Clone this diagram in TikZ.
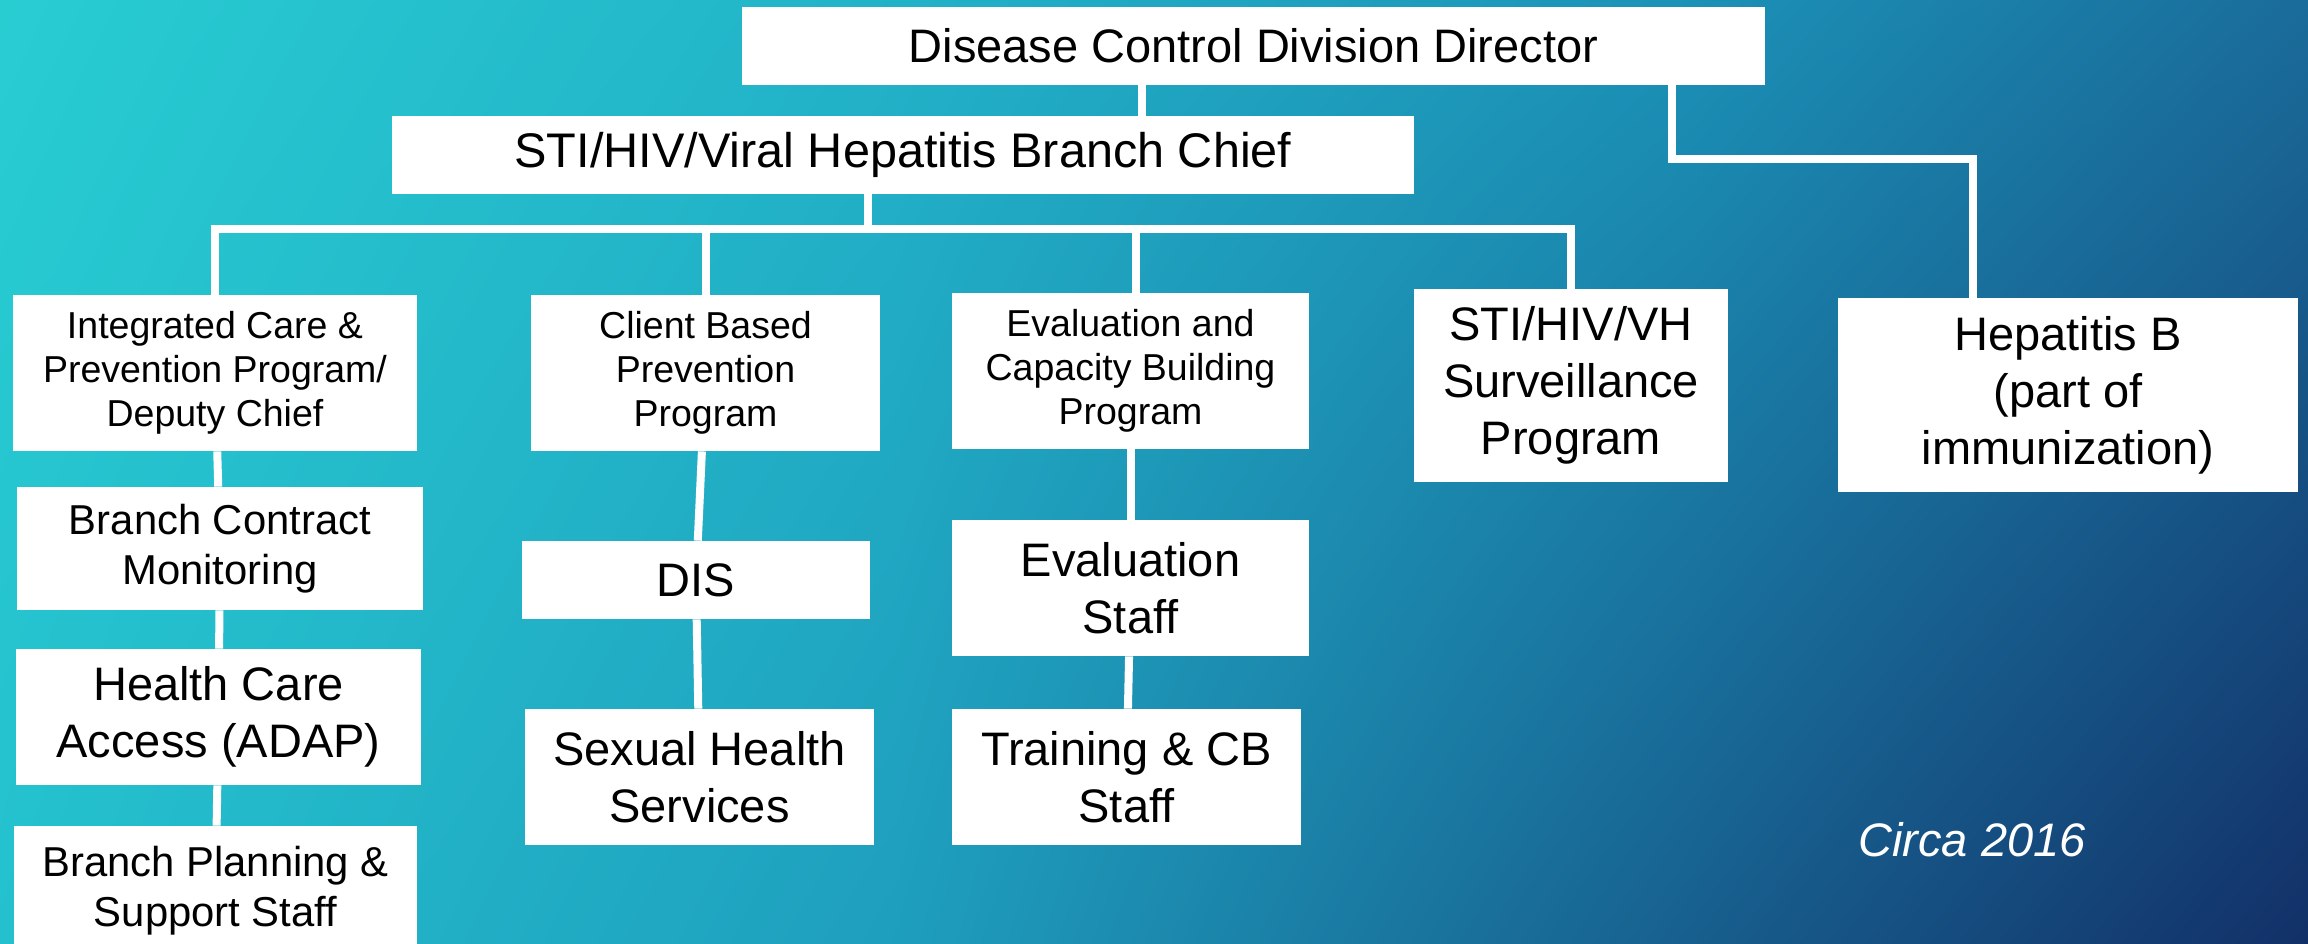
\documentclass[tikz,border=0pt]{standalone}
\usepackage{fontspec}
\setmainfont{Liberation Sans}
\usetikzlibrary{shadings}

\definecolor{bgA}{RGB}{40,205,210}
\definecolor{bgAb}{RGB}{36,192,206}
\definecolor{bgB}{RGB}{34,178,200}
\definecolor{bgBb}{RGB}{30,158,189}
\definecolor{bgC}{RGB}{27,145,183}
\definecolor{bgCb}{RGB}{23,94,141}
\definecolor{bgD}{RGB}{26,108,154}
\definecolor{bgDb}{RGB}{18,48,104}

\tikzset{
  box/.style={fill=white, inner sep=0pt, align=center, text=black},
  bigtxt/.style={font=\fontsize{23.5}{28.5}\selectfont},
  midtxt/.style={font=\fontsize{20.9}{25}\selectfont},
  smalltxt/.style={font=\fontsize{18.75}{22}\selectfont},
  link/.style={draw=white, line width=4pt},
}

\begin{document}
\begin{tikzpicture}[x=0.5pt,y=0.5pt,yscale=-1,xscale=1]
\useasboundingbox (0,0) rectangle (2308,943);

%Background
\shade[upper left=bgA, lower left=bgAb, upper right=bgB, lower right=bgBb] (0,0) rectangle (901,943);
\shade[upper left=bgB, lower left=bgBb, upper right=bgC, lower right=bgCb] (899,0) rectangle (1701,943);
\shade[upper left=bgC, lower left=bgCb, upper right=bgD, lower right=bgDb] (1699,0) rectangle (2308,943);

%Top boxes
\node[box, bigtxt, minimum width=511.5pt, minimum height=39pt] (dir) at (1253.5,46) {Disease Control Division Director};
\node[box, font=\fontsize{24.3}{28.5}\selectfont, minimum width=511pt, minimum height=39pt] (chief) at (903,155) {STI/HIV/Viral Hepatitis Branch Chief};

%Programs
\node[box, smalltxt, minimum width=202pt, minimum height=78pt] (icp) at (215,373) {Integrated Care \&\\Prevention Program/\\Deputy Chief};
\node[box, smalltxt, minimum width=174.5pt, minimum height=78pt] (cbp) at (705.5,373) {Client Based\\Prevention\\Program};
\node[box, smalltxt, minimum width=178.5pt, minimum height=78pt] (ecb) at (1130.5,371) {Evaluation and\\Capacity Building\\Program};
\node[box, bigtxt, minimum width=157pt, minimum height=96.5pt] (surv) at (1571,385.5) {STI/HIV/VH\\Surveillance\\Program};
\node[box, bigtxt, minimum width=230pt, minimum height=97pt] (hepb) at (2068,395) {Hepatitis B\\(part of\\immunization)};

%Left column
\node[box, midtxt, minimum width=203pt, minimum height=61.5pt] (bcm) at (220,548.5) {Branch Contract\\Monitoring};
\node[box, bigtxt, minimum width=202.5pt, minimum height=68pt] (hca) at (218.5,717) {Health Care\\Access (ADAP)};
\node[box, midtxt, minimum width=201.5pt, minimum height=65pt] (bps) at (215.5,891) {Branch Planning \&\\Support Staff};

%Middle columns
\node[box, bigtxt, minimum width=174pt, minimum height=39pt] (dis) at (696,580) {DIS};
\node[box, bigtxt, minimum width=174.5pt, minimum height=68pt] (shs) at (699.5,777) {Sexual Health\\Services};
\node[box, bigtxt, minimum width=178.5pt, minimum height=68pt] (evs) at (1130.5,588) {Evaluation\\Staff};
\node[box, bigtxt, minimum width=174.5pt, minimum height=68pt] (tcb) at (1126.5,777) {Training \& CB\\Staff};

% Text Node
\node[bigtxt, text=white] (circa) at (1972,840) {\itshape Circa 2016};

%Connectors
\coordinate (dirdrop) at (1142,0);
\coordinate (bus) at (868,229);
\coordinate (hepjog) at (1672,159);
\coordinate (hepdrop) at (1973,0);
\coordinate (ecbdrop) at (1136,0);
\draw[link] (dir.south -| dirdrop) -- (chief.north -| dirdrop);
\draw[link] (dir.south -| hepjog) -- (hepjog) -| (hepb.north -| hepdrop);
\draw[link] (chief.south -| bus) -- (bus);
\draw[link] (icp.north) |- (bus) -| (surv.north);
\draw[link] (cbp.north) -- (cbp.north |- bus);
\draw[link] (ecb.north -| ecbdrop) -- (bus -| ecbdrop);
\draw[link] (icp) -- (bcm);
\draw[link] (bcm) -- (hca);
\draw[link] (hca) -- (bps);
\draw[link] (cbp) -- (dis);
\draw[link] (dis) -- (shs);
\draw[link] (ecb) -- (evs);
\draw[link] (evs) -- (tcb);

\end{tikzpicture}
\end{document}
